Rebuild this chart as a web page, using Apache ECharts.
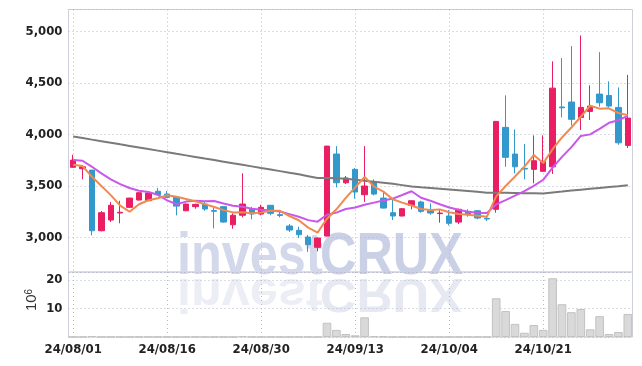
<!DOCTYPE html>
<html><head><meta charset="utf-8">
<script src="https://cdn.jsdelivr.net/npm/echarts@6/dist/echarts.min.js"></script>
<style>html,body{margin:0;padding:0;background:#fff}#c{width:642px;height:366px}</style>
</head><body><div id="c"></div>
<script>
const dates = ['24/08/01','24/08/02','24/08/05','24/08/06','24/08/07','24/08/08','24/08/09','24/08/12','24/08/13','24/08/14',
'24/08/16','24/08/19','24/08/20','24/08/21','24/08/22','24/08/23','24/08/26','24/08/27','24/08/28','24/08/29',
'24/08/30','24/09/02','24/09/03','24/09/04','24/09/05','24/09/06','24/09/09','24/09/10','24/09/11','24/09/12',
'24/09/13','24/09/19','24/09/20','24/09/23','24/09/24','24/09/25','24/09/26','24/09/27','24/09/30','24/10/02',
'24/10/04','24/10/07','24/10/08','24/10/10','24/10/11','24/10/14','24/10/15','24/10/16','24/10/17','24/10/18',
'24/10/21','24/10/22','24/10/23','24/10/24','24/10/25','24/10/28','24/10/29','24/10/30','24/10/31','24/11/01'];
const opens = [3682,3668,3655,3066,3170,3238,3293,3364,3357,3449,3422,3392,3260,3300,3325,3262,3300,3124,3216,3280,
3228,3313,3222,3112,3070,3005,2905,3015,3811,3532,3662,3416,3539,3383,3241,3209,3313,3345,3260,3232,
3209,3150,3254,3260,3186,3274,4070,3811,3672,3662,3643,3687,4268,4316,4167,4225,4393,4380,4264,3895];
const closes = [3752,3687,3066,3241,3313,3245,3383,3435,3432,3416,3390,3305,3325,3322,3277,3255,3150,3216,3325,3228,
3293,3235,3214,3073,3027,2930,2995,3888,3532,3578,3442,3500,3422,3286,3209,3280,3357,3254,3238,3238,
3138,3274,3222,3189,3180,4128,3779,3687,3665,3746,3740,4451,4260,4148,4264,4277,4309,4277,3920,4160];
const lows = [3678,3565,3021,3060,3150,3138,3290,3360,3355,3414,3385,3215,3257,3280,3260,3089,3144,3085,3196,3177,
3216,3216,3196,3053,2995,2860,2866,3010,3487,3519,3377,3345,3410,3283,3170,3205,3274,3241,3222,3144,
3118,3131,3202,3177,3160,3241,3687,3623,3565,3526,3640,3617,4167,4089,4044,4141,4270,4264,3901,3869];
const highs = [3804,3692,3655,3257,3345,3357,3386,3440,3436,3480,3452,3400,3330,3328,3354,3290,3305,3235,3623,3299,
3318,3316,3267,3131,3105,3025,3000,3890,3888,3597,3675,3888,3565,3449,3377,3285,3360,3357,3332,3274,
3267,3280,3274,3265,3202,4130,4381,4050,3908,3992,3992,4711,4743,4859,4963,4478,4801,4517,4458,4580];
const ma5 = [3707,3694,3590,3500,3412,3310,3250,3323,3362,3382,3411,3396,3374,3352,3324,3297,3266,3244,3245,3235,
3242,3259,3259,3209,3168,3096,3048,3183,3274,3385,3487,3588,3495,3446,3372,3339,3311,3277,3268,3273,
3245,3228,3222,3212,3201,3399,3500,3593,3688,3801,3723,3858,3972,4069,4173,4280,4252,4255,4209,4189];
const ma10 = [3752,3746,3687,3623,3565,3519,3481,3454,3442,3415,3361,3323,3349,3357,3353,3354,3331,3309,3298,3279,
3270,3263,3252,3227,3202,3169,3154,3221,3242,3277,3291,3318,3339,3360,3378,3413,3449,3386,3357,3323,
3292,3270,3250,3240,3237,3322,3364,3407,3450,3501,3561,3679,3783,3878,3987,4002,4055,4114,4139,4181];
const ma60 = [3982,3967,3951,3936,3921,3905,3890,3875,3859,3844,3829,3813,3798,3783,3767,3752,3737,3721,3706,3691,
3675,3660,3645,3629,3614,3596,3578,3577,3576,3570,3561,3551,3542,3533,3522,3509,3496,3488,3481,3474,
3467,3460,3452,3444,3436,3435,3435,3433,3431,3429,3427,3437,3446,3456,3465,3474,3482,3490,3498,3507];
const volumes = [0.05,0.05,0.35,0.05,0.05,0.05,0.05,0.05,0.05,0.05,0.05,0.05,0.05,0.05,0.05,0.05,0.05,0.05,0.35,0.05,
0.05,0.05,0.05,0.05,0.05,0.05,0.05,5.0,2.5,1.05,0.6,6.9,0.3,0.2,0.05,0.05,0.05,0.05,0.05,0.05,
0.05,0.05,0.05,0.05,0.05,13.6,9.1,4.6,1.5,4.2,2.5,20.6,11.5,8.7,9.8,2.7,7.3,1.05,1.75,8.1];
const priceTicks = [3000,3500,4000,4500,5000];
const volTicks = [10,20];

const FONT = "'DejaVu Sans Condensed','Liberation Sans',sans-serif";
const WM = "bold 60px 'Liberation Sans', sans-serif";
const GRIDC = '#cdd0dc';
const dotted = {type:[1,3], color:'#b4b9cc', width:1};
const chart = echarts.init(document.getElementById('c'));
const lbl = {fontFamily:FONT, fontWeight:'bold', fontSize:13, color:'#222'};
chart.setOption({
  animation:false,
  backgroundColor:'#fff',
  grid:[
    {left:68.5, right:9.5, top:9.5, height:262.5, show:true, borderColor:GRIDC, borderWidth:1},
    {left:68.5, right:9.5, top:272, height:65, show:true, borderColor:GRIDC, borderWidth:1}
  ],
  graphic:[
    {type:'text', x:177, y:287.5, scaleX:0.84, z:0, style:{text:'invest', font:WM, fill:'#d3d8ea', verticalAlign:'bottom'}},
    {type:'text', x:320, y:287.5, scaleX:0.84, z:0, style:{text:'CRUX', font:WM, fill:'#cad0e6', verticalAlign:'bottom'}},
    {type:'text', x:177, y:268.6, scaleX:0.84, scaleY:-0.8, z:0, style:{text:'invest', font:WM, fill:'#eceef5', verticalAlign:'bottom'}},
    {type:'text', x:320, y:268.6, scaleX:0.84, scaleY:-0.8, z:0, style:{text:'CRUX', font:WM, fill:'#e7e9f2', verticalAlign:'bottom'}},
    {type:'text', x:32, y:300, rotation:Math.PI/2, z:10, style:{text:'10{s|6}', font:"15px 'Liberation Sans', sans-serif", fill:'#333', align:'center', verticalAlign:'middle', rich:{s:{fontSize:10, verticalAlign:'top', fill:'#333', fontFamily:'Liberation Sans'}}}}
  ],
  xAxis:[
    {type:'category', data:dates, gridIndex:0, boundaryGap:true, axisLine:{show:false}, axisTick:{show:false}, axisLabel:{show:false},
     splitLine:{show:true, interval:9, alignWithLabel:true, lineStyle:dotted}},
    {type:'category', data:dates, gridIndex:1, boundaryGap:true, axisLine:{show:false}, axisTick:{show:false},
     axisLabel:Object.assign({show:true, interval:9, margin:6}, lbl),
     splitLine:{show:true, interval:9, alignWithLabel:true, lineStyle:dotted}}
  ],
  yAxis:[
    {type:'value', gridIndex:0, min:2665, max:5215, splitNumber:5, scale:true, axisLine:{show:false}, axisTick:{show:false},
     axisLabel:Object.assign({margin:6, showMinLabel:false, showMaxLabel:false, formatter:v=>priceTicks.includes(v)?v.toLocaleString('en-US'):''}, lbl),
     splitLine:{show:true, lineStyle:dotted}},
    {type:'value', gridIndex:1, min:0, max:22.8, splitNumber:2, axisLine:{show:false}, axisTick:{show:false},
     axisLabel:Object.assign({margin:6, showMinLabel:false, showMaxLabel:false, formatter:v=>volTicks.includes(v)?String(v):''}, lbl),
     splitLine:{show:true, lineStyle:dotted}}
  ],
  series:[
    {type:'candlestick', xAxisIndex:0, yAxisIndex:0, barWidth:6, z:2,
     data:dates.map((d,i)=>[opens[i],closes[i],lows[i],highs[i]]),
     itemStyle:{color:'#e91e63', color0:'#3399cc', borderColor:'#e91e63', borderColor0:'#3399cc', borderWidth:1}},
    {type:'line', data:ma60, xAxisIndex:0, yAxisIndex:0, symbol:'none', z:3, lineStyle:{color:'#7a7a7a', width:2}},
    {type:'line', data:ma10, xAxisIndex:0, yAxisIndex:0, symbol:'none', z:4, lineStyle:{color:'#c957ea', width:2}},
    {type:'line', data:ma5, xAxisIndex:0, yAxisIndex:0, symbol:'none', z:5, lineStyle:{color:'#ef8a50', width:2}},
    {type:'bar', data:volumes, xAxisIndex:1, yAxisIndex:1, barCategoryGap:'8%', z:2,
     itemStyle:{color:'#d9d9d9', borderColor:'#c2c2c2', borderWidth:1}}
  ]
});
</script></body></html>
